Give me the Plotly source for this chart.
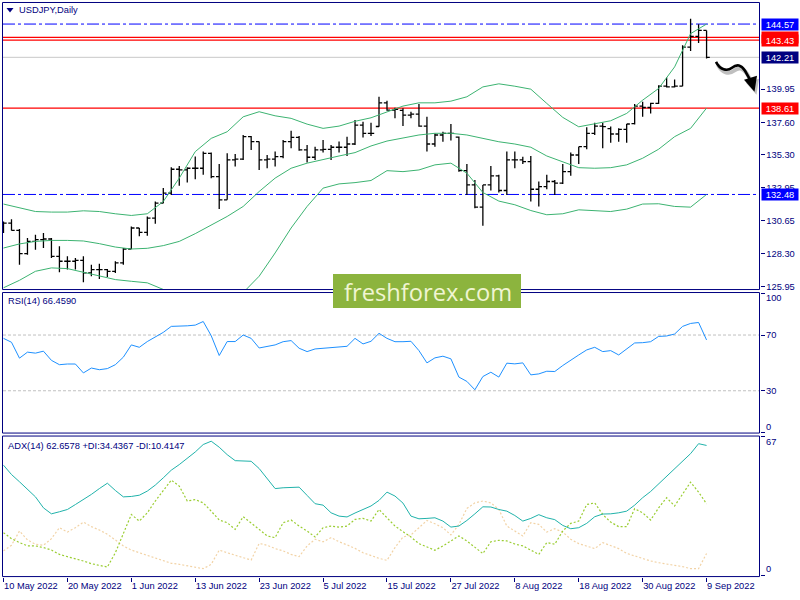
import plotly.graph_objects as go

# ---------------- data ----------------
tick_labels = ["10 May 2022", "20 May 2022", "1 Jun 2022", "13 Jun 2022", "23 Jun 2022",
               "5 Jul 2022", "15 Jul 2022", "27 Jul 2022", "8 Aug 2022", "18 Aug 2022",
               "30 Aug 2022", "9 Sep 2022"]

opens = [130.50, 130.45, 129.93, 128.28, 129.15, 129.27, 129.32, 128.09, 127.74, 127.74,
         127.81, 126.91, 127.15, 127.15, 127.03, 127.62, 128.61, 130.10, 129.79, 130.80,
         131.86, 132.57, 134.27, 134.22, 134.34, 134.34, 135.40, 133.75, 132.10, 134.93,
         134.98, 136.58, 136.23, 134.93, 134.98, 135.17, 136.23, 136.53, 135.64, 135.12,
         135.64, 135.68, 135.83, 135.83, 136.06, 137.40, 136.82, 137.30, 138.98, 138.47,
         138.45, 138.11, 138.18, 137.33, 136.06, 136.70, 136.81, 136.55, 134.17, 133.16,
         131.58, 133.16, 133.80, 132.76, 134.93, 134.93, 134.81, 132.85, 133.04, 133.40,
         133.28, 134.10, 135.28, 135.87, 136.81, 137.33, 137.15, 136.77, 137.10, 137.50,
         138.75, 138.65, 138.94, 140.16, 140.12, 140.16, 142.94, 143.70, 144.12]
highs = [130.57, 130.73, 130.03, 129.39, 129.63, 129.74, 129.39, 128.80, 128.09, 127.98,
         128.09, 127.50, 127.57, 127.20, 127.74, 128.68, 130.21, 130.10, 130.92, 131.98,
         132.93, 134.41, 134.50, 134.41, 135.17, 135.52, 135.45, 134.65, 135.40, 135.35,
         136.70, 136.63, 136.23, 135.28, 135.52, 136.34, 137.00, 136.63, 135.99, 135.87,
         136.34, 135.99, 136.23, 136.58, 137.76, 137.64, 137.57, 139.41, 139.13, 138.63,
         138.60, 138.35, 138.89, 137.99, 136.81, 136.93, 137.48, 136.60, 134.65, 133.51,
         133.16, 134.50, 133.87, 135.52, 135.52, 135.16, 135.21, 133.40, 133.87, 133.51,
         134.65, 135.45, 135.87, 137.24, 137.57, 137.57, 137.30, 137.17, 137.48, 138.89,
         139.05, 138.98, 140.23, 140.78, 140.63, 143.06, 144.95, 144.55, 144.12]
lows = [129.74, 129.93, 127.50, 128.21, 128.56, 128.68, 127.98, 126.96, 127.15, 127.15,
        126.25, 126.68, 126.49, 126.63, 126.91, 127.50, 128.61, 129.51, 129.55, 130.40,
        131.86, 132.45, 133.09, 133.33, 133.56, 133.87, 133.63, 131.44, 132.10, 134.46,
        134.93, 135.64, 134.22, 134.34, 134.46, 135.05, 135.75, 135.59, 134.74, 134.93,
        135.45, 134.93, 135.45, 135.21, 135.99, 136.53, 136.63, 137.29, 138.42, 137.88,
        137.33, 137.88, 137.29, 135.52, 135.87, 136.22, 136.30, 134.10, 132.45, 131.51,
        130.26, 132.76, 132.62, 132.45, 134.34, 134.64, 131.98, 131.63, 132.85, 132.45,
        133.23, 133.80, 134.65, 135.68, 136.70, 135.75, 136.15, 136.22, 136.15, 137.45,
        137.99, 138.23, 138.89, 140.07, 140.07, 140.16, 142.66, 143.23, 142.12]
closes = [130.45, 129.93, 128.28, 129.15, 129.27, 129.32, 128.09, 127.74, 127.74, 127.81,
          126.91, 127.15, 127.15, 127.03, 127.62, 128.61, 130.10, 129.79, 130.80, 131.86,
          132.57, 134.27, 134.22, 134.34, 134.34, 135.40, 133.75, 132.10, 134.93, 134.98,
          136.58, 136.23, 134.93, 134.98, 135.17, 136.23, 136.53, 135.64, 135.12, 135.64,
          135.68, 135.83, 135.83, 136.06, 137.40, 136.82, 136.82, 138.98, 138.47, 138.51,
          138.11, 138.18, 137.33, 136.06, 136.70, 136.81, 136.81, 134.17, 133.16, 131.58,
          133.16, 133.80, 132.76, 134.93, 134.93, 134.81, 132.85, 133.04, 133.40, 133.28,
          134.10, 135.28, 135.87, 136.81, 137.33, 137.29, 136.77, 137.10, 137.48, 138.75,
          138.65, 138.94, 140.16, 140.12, 140.16, 142.94, 143.70, 144.12, 142.21]

# Bollinger bands, read at every second bar
bb_upper = [131.80, 131.51, 131.27, 131.23, 131.23, 131.32, 131.27, 131.11, 130.99, 131.11,
            131.98, 133.64, 135.52, 136.46, 136.93, 137.99, 138.35, 138.06, 137.88, 137.47,
            137.17, 137.33, 137.67, 137.92, 138.35, 138.75, 138.98, 138.98, 139.10, 139.41,
            140.11, 140.33, 140.16, 139.95, 138.94, 137.95, 137.28, 137.47, 137.71, 138.23,
            139.17, 140.00, 141.53, 143.89, 144.57]
bb_middle = [128.68, 128.97, 129.15, 129.22, 129.22, 129.18, 128.99, 128.75, 128.61, 128.66,
             128.85, 129.15, 129.70, 130.33, 130.92, 131.63, 132.69, 133.64, 134.34, 134.70,
             134.98, 135.21, 135.45, 135.92, 136.27, 136.46, 136.70, 136.82, 136.82, 136.70,
             136.46, 136.22, 136.06, 135.83, 135.21, 134.81, 134.38, 134.34, 134.38, 134.58,
             135.05, 135.69, 136.58, 137.17, 138.61]
bb_lower = [125.86, 126.39, 127.03, 127.27, 127.22, 126.96, 126.73, 126.44, 126.32, 126.21,
            125.74, 125.10, 124.30, 123.90, 124.20, 125.52, 126.68, 128.33, 130.10, 131.63,
            132.93, 133.23, 133.32, 133.47, 134.17, 134.10, 134.22, 134.58, 134.70, 133.99,
            132.62, 132.01, 131.75, 131.34, 131.04, 131.11, 131.39, 131.34, 131.27, 131.44,
            131.80, 131.82, 131.63, 131.58, 132.48]

rsi = [67.6, 64.8, 53.4, 57.7, 57.0, 58.4, 51.8, 48.7, 49.2, 49.2,
       42.8, 46.3, 45.1, 45.9, 48.7, 54.1, 62.9, 61.2, 65.3, 68.8,
       71.9, 76.2, 76.2, 76.6, 77.1, 79.7, 69.5, 55.3, 65.3, 65.3,
       70.0, 67.6, 60.7, 61.7, 62.9, 65.2, 66.0, 60.5, 58.1, 60.0,
       60.5, 60.5, 61.2, 61.9, 67.6, 63.6, 65.5, 71.2, 67.6, 65.2,
       65.2, 65.5, 58.8, 50.0, 53.6, 54.8, 52.9, 39.8, 36.7, 30.7,
       40.2, 43.3, 39.8, 49.8, 49.3, 50.0, 41.4, 42.1, 44.0, 43.8,
       48.1, 52.1, 55.7, 59.3, 61.2, 58.1, 58.8, 55.7, 60.0, 64.3,
       64.5, 65.2, 69.0, 69.3, 70.7, 76.2, 78.3, 79.0, 66.459]

adx = [53.1, 48.6, 45.1, 41.5, 37.8, 32.5, 29.6, 30.6, 31.7, 34.1,
       36.4, 39.0, 41.8, 44.4, 40.9, 37.8, 38.0, 38.6, 40.6, 43.5,
       47.0, 50.7, 53.4, 56.3, 59.5, 63.1, 64.7, 61.8, 58.2, 55.3,
       55.2, 55.0, 51.5, 46.7, 41.8, 42.2, 42.3, 42.5, 38.5, 34.5,
       33.8, 30.1, 28.5, 28.1, 30.0, 31.7, 33.4, 36.1, 40.1, 38.2,
       34.8, 28.5, 27.2, 27.4, 27.7, 26.1, 23.2, 23.7, 26.4, 29.6,
       33.0, 32.9, 31.7, 30.9, 28.8, 26.1, 27.4, 29.2, 27.7, 26.8,
       24.0, 22.4, 22.9, 25.0, 28.2, 29.5, 29.6, 30.1, 30.9, 33.8,
       37.4, 40.4, 44.1, 47.3, 51.0, 55.0, 58.7, 63.5, 62.6578]
plus_di = [20.5, 17.6, 15.7, 14.1, 14.1, 13.3, 12.1, 10.0, 8.9, 8.0,
           6.8, 5.5, 4.7, 3.9, 10.8, 20.5, 29.3, 26.1, 30.1, 35.8,
           40.6, 45.9, 43.0, 35.8, 36.5, 34.9, 30.9, 26.6, 25.3, 22.1,
           28.2, 25.3, 22.1, 18.9, 18.1, 25.3, 26.6, 23.7, 21.3, 18.4,
           22.9, 23.7, 23.2, 23.7, 26.9, 27.4, 26.1, 31.7, 27.7, 23.7,
           21.0, 18.4, 15.2, 13.6, 12.0, 14.1, 16.5, 18.9, 16.5, 13.3,
           10.4, 16.1, 16.8, 16.5, 15.0, 14.1, 12.1, 10.0, 15.7, 14.9,
           21.3, 25.0, 26.1, 34.1, 34.9, 29.3, 25.6, 23.4, 23.4, 32.1,
           30.1, 26.6, 32.5, 37.4, 33.4, 39.4, 44.9, 40.1, 34.4367]
minus_di = [11.7, 14.4, 21.3, 17.0, 14.9, 14.4, 17.6, 22.9, 20.8, 22.9,
            25.6, 23.4, 21.8, 19.7, 17.0, 14.1, 12.1, 10.8, 9.3, 8.0,
            6.8, 5.7, 5.2, 4.4, 3.6, 3.1, 5.2, 12.1, 10.8, 9.5,
            8.4, 7.3, 15.3, 14.4, 12.8, 11.7, 10.0, 8.9, 14.1, 17.3,
            16.1, 18.1, 16.1, 14.6, 12.9, 10.8, 9.3, 8.1, 7.1, 13.3,
            18.4, 19.4, 22.9, 26.4, 24.8, 22.9, 19.4, 24.5, 32.2, 34.9,
            35.8, 34.9, 31.7, 23.7, 21.3, 18.9, 25.3, 24.5, 20.8, 22.4,
            20.8, 17.3, 15.2, 14.1, 12.8, 15.7, 14.4, 12.8, 10.5, 9.3,
            8.0, 6.8, 6.0, 5.2, 4.7, 4.1, 3.1, 3.1, 10.4147]

price_ticks = [125.95, 128.30, 130.65, 132.95, 135.30, 137.60, 139.95]
blue_levels = [144.57, 132.48]
red_levels = [143.63, 143.43, 138.61]
bid_level = 142.21

# ---------------- layout helpers ----------------
W, H = 800, 600
NAVY = "#000080"
FONT = "Liberation Sans"
FS = 9.3


def px(x):
    return x / W


def py(y):
    return 1 - y / H


bars = list(range(len(closes)))
tick_bars = bars[::8]
bb_bars = bars[::2]

fig = go.Figure()

fig.add_trace(go.Ohlc(x=bars, open=opens, high=highs, low=lows, close=closes,
                      increasing=dict(line=dict(color="black", width=1.3)),
                      decreasing=dict(line=dict(color="black", width=1.3)),
                      tickwidth=0.4, xaxis="x", yaxis="y", hoverinfo="skip"))
for band in (bb_upper, bb_middle, bb_lower):
    fig.add_trace(go.Scatter(x=bb_bars, y=band, mode="lines",
                             line=dict(color="#3CB371", width=1), xaxis="x", yaxis="y",
                             hoverinfo="skip"))

fig.add_trace(go.Scatter(x=bars, y=rsi, mode="lines", line=dict(color="#1E90FF", width=1),
                         xaxis="x", yaxis="y2", hoverinfo="skip"))

fig.add_trace(go.Scatter(x=bars, y=minus_di, mode="lines",
                         line=dict(color="#F2D3A6", width=1.2, dash="2px,2px"),
                         xaxis="x", yaxis="y3", hoverinfo="skip"))
fig.add_trace(go.Scatter(x=bars, y=plus_di, mode="lines",
                         line=dict(color="#9ACD32", width=1.2, dash="2px,2px"),
                         xaxis="x", yaxis="y3", hoverinfo="skip"))
fig.add_trace(go.Scatter(x=bars, y=adx, mode="lines", line=dict(color="#20B2AA", width=1),
                         xaxis="x", yaxis="y3", hoverinfo="skip"))

shapes = []
# level lines
for lv in blue_levels:
    shapes.append(dict(type="line", xref="paper", yref="y", x0=px(3), x1=px(760), y0=lv, y1=lv,
                       line=dict(color="#0000FF", width=1, dash="12px,3px,3px,3px"), layer="below"))
for lv in red_levels:
    shapes.append(dict(type="line", xref="paper", yref="y", x0=px(3), x1=px(760), y0=lv, y1=lv,
                       line=dict(color="#FF0000", width=1.3), layer="below"))
shapes.append(dict(type="line", xref="paper", yref="y", x0=px(3), x1=px(760), y0=bid_level,
                   y1=bid_level, line=dict(color="#C8C8C8", width=1), layer="below"))
# RSI 70/30 levels
for lv in (70, 30):
    shapes.append(dict(type="line", xref="paper", yref="y2", x0=px(3), x1=px(760), y0=lv, y1=lv,
                       line=dict(color="#C0C0C0", width=1, dash="3px,2px"), layer="below"))
# panel frames
for (top, bot) in ((2.5, 290.5), (293.5, 434.5), (437.5, 578.5)):
    shapes.append(dict(type="rect", xref="paper", yref="paper", x0=px(2.5), x1=px(759.5),
                       y0=py(bot), y1=py(top), line=dict(color=NAVY, width=1),
                       fillcolor="rgba(0,0,0,0)", layer="above"))
# logo box
shapes.append(dict(type="rect", xref="paper", yref="paper", x0=px(333), x1=px(521),
                   y0=py(309), y1=py(275), line=dict(width=0), fillcolor="#8CB43E",
                   layer="above"))
# title triangle
shapes.append(dict(type="path", xref="paper", yref="paper",
                   path=f"M {px(6.5)} {py(8)} L {px(13.5)} {py(8)} L {px(10)} {py(12.5)} Z",
                   fillcolor=NAVY, line=dict(width=0), layer="above"))


def arrow_path(dx, dy):
    pts = [(716, 62), (720, 70), (727, 72), (732, 68), (737, 64), (741, 65), (745, 71), (750, 80)]
    p = [(px(x + dx), py(y + dy)) for x, y in pts]
    return (f"M {p[0][0]} {p[0][1]} C {p[1][0]} {p[1][1]}, {p[2][0]} {p[2][1]}, {p[3][0]} {p[3][1]} "
            f"C {p[4][0]} {p[4][1]}, {p[5][0]} {p[5][1]}, {p[6][0]} {p[6][1]} L {p[7][0]} {p[7][1]}")


def head_path(dx, dy):
    pts = [(744, 80), (757, 76), (754.5, 92)]
    p = [(px(x + dx), py(y + dy)) for x, y in pts]
    return f"M {p[0][0]} {p[0][1]} L {p[1][0]} {p[1][1]} L {p[2][0]} {p[2][1]} Z"


shapes.append(dict(type="path", xref="paper", yref="paper", path=arrow_path(2, 3),
                   line=dict(color="rgba(0,0,0,0.25)", width=4), layer="above"))
shapes.append(dict(type="path", xref="paper", yref="paper", path=head_path(2, 3),
                   fillcolor="rgba(0,0,0,0.25)", line=dict(width=0), layer="above"))
shapes.append(dict(type="path", xref="paper", yref="paper", path=arrow_path(0, 0),
                   line=dict(color="black", width=2.6), layer="above"))
shapes.append(dict(type="path", xref="paper", yref="paper", path=head_path(0, 0),
                   fillcolor="black", line=dict(width=0), layer="above"))

annotations = []


def txt(x, y, text, color=NAVY, size=FS, anchor="left"):
    annotations.append(dict(xref="paper", yref="paper", x=px(x), y=py(y), text=text,
                            showarrow=False, xanchor=anchor, yanchor="middle",
                            font=dict(family=FONT, size=size, color=color)))


txt(17, 10.5, "USDJPY,Daily")
txt(6, 302, "RSI(14) 66.4590")
txt(6, 447, "ADX(14) 62.6578 +DI:34.4367 -DI:10.4147")

# indicator scale labels
for val, shift, yref in ((100, -5, "y2"), (70, 0, "y2"), (30, 0, "y2"), (0, 6, "y2"),
                         (67, -6, "y3"), (0, 6, "y3")):
    annotations.append(dict(xref="paper", yref=yref, x=px(764), y=val, yshift=shift,
                            text=str(val), showarrow=False, xanchor="left", yanchor="middle",
                            font=dict(family=FONT, size=FS, color=NAVY)))


def price_box(val, bg):
    annotations.append(dict(xref="paper", yref="y", x=px(760.5), y=val, text=f"{val:.2f}",
                            showarrow=False, xanchor="left", yanchor="middle", width=34,
                            height=9, align="center", bgcolor=bg, borderpad=1,
                            font=dict(family=FONT, size=FS, color="white")))


price_box(blue_levels[0], "#0000FF")
price_box(red_levels[0], "#FF0000")
price_box(red_levels[1], "#FF0000")
price_box(bid_level, "#000080")
price_box(red_levels[2], "#FF0000")
price_box(blue_levels[1], "#0000FF")

annotations.append(dict(xref="paper", yref="paper", x=px(427.5), y=py(292.5), text="freshforex.com",
                        showarrow=False, xanchor="center", yanchor="middle",
                        font=dict(family="Open Sans", size=23.7, color="#F0F5D2")))

axis_font = dict(family=FONT, size=FS, color=NAVY)
fig.update_layout(
    width=W, height=H, autosize=False, margin=dict(l=0, r=0, t=0, b=0),
    paper_bgcolor="white", plot_bgcolor="white", showlegend=False,
    xaxis=dict(domain=[px(2.5), px(759.5)], range=[-0.125, 94.625], anchor="y3",
               tickvals=tick_bars, ticktext=tick_labels, ticks="outside", ticklen=4,
               tickcolor=NAVY, ticklabelposition="outside right", tickfont=axis_font,
               showgrid=False, zeroline=False, showline=False,
               rangeslider=dict(visible=False)),
    yaxis=dict(domain=[py(290.5), py(2.5)], range=[125.735, 146.10], side="right", anchor="x",
               tickvals=price_ticks, ticktext=[f"{v:.2f}" for v in price_ticks],
               ticks="outside", ticklen=4, tickcolor=NAVY, tickfont=axis_font,
               showgrid=False, zeroline=False, showline=False),
    yaxis2=dict(domain=[py(434.5), py(293.5)], range=[-0.36, 100.5], side="right", anchor="x",
                tickvals=[0, 30, 70, 100], showticklabels=False, ticks="outside", ticklen=4,
                tickcolor=NAVY, showgrid=False, zeroline=False, showline=False),
    yaxis3=dict(domain=[py(578.5), py(437.5)], range=[-0.72, 67.2], side="right", anchor="x",
                tickvals=[0, 67], showticklabels=False, ticks="outside", ticklen=4,
                tickcolor=NAVY, showgrid=False, zeroline=False, showline=False),
    shapes=shapes, annotations=annotations,
)

fig.write_html("out.html", config={"displayModeBar": False, "staticPlot": True},
               post_script="document.body.style.margin='0';document.body.style.overflow='hidden';")
